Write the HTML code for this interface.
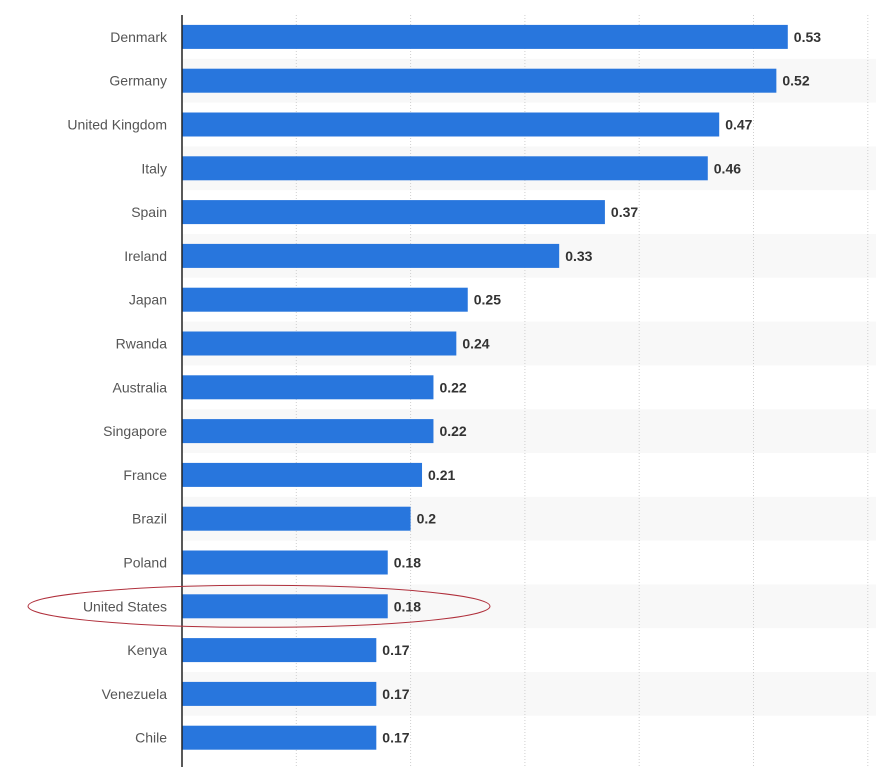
<!DOCTYPE html>
<html><head><meta charset="utf-8"><style>
body{margin:0;background:#fff;}
svg text{font-family:"Liberation Sans","DejaVu Sans",sans-serif;font-size:14px;}
</style></head><body>
<svg id="chart" width="876" height="767" xmlns="http://www.w3.org/2000/svg"></svg>
<script>
const categories=["Denmark","Germany","United Kingdom","Italy","Spain","Ireland","Japan","Rwanda","Australia","Singapore","France","Brazil","Poland","United States","Kenya","Venezuela","Chile"];
const values=[0.53,0.52,0.47,0.46,0.37,0.33,0.25,0.24,0.22,0.22,0.21,0.2,0.18,0.18,0.17,0.17,0.17];
const valueLabels=["0.53","0.52","0.47","0.46","0.37","0.33","0.25","0.24","0.22","0.22","0.21","0.2","0.18","0.18","0.17","0.17","0.17"];
const gridTicks=[0.1,0.2,0.3,0.4,0.5,0.6];
const svg=document.getElementById('chart');
const NS="http://www.w3.org/2000/svg";
const x0=182,scale=1143,top0=15,step=43.8,barH=24;
const xs=v=>x0+v*scale;
const yc=i=>top0+step*(i+0.5);
function mk(t,a){const e=document.createElementNS(NS,t);for(const k in a)e.setAttribute(k,a[k]);svg.appendChild(e);return e;}
categories.forEach((c,i)=>{if(i%2===1){const r=mk('rect',{x:x0,y:yc(i)-step/2,width:876-x0,height:step,fill:'#f8f8f8'});

}});
gridTicks.forEach(t=>{const l=mk('line',{x1:xs(t),x2:xs(t),y1:top0,y2:767,stroke:'#cfcfcf','stroke-dasharray':'1,2'});

});
categories.forEach((c,i)=>{
const y=yc(i);
const b=mk('rect',{x:x0,y:y-barH/2,width:xs(values[i])-x0,height:barH,fill:'#2876dd'});


const t=mk('text',{x:167,y:y+5,'text-anchor':'end',fill:'#555'});t.textContent=c;


const v=mk('text',{x:xs(values[i])+6,y:y+5,fill:'#333','font-weight':'bold'});v.textContent=valueLabels[i];


});
const ax=mk('line',{x1:x0,x2:x0,y1:top0,y2:767,stroke:'#222','stroke-width':1.5});


const el=mk('ellipse',{cx:259,cy:yc(13),rx:231,ry:21,fill:'none',stroke:'#b0303c','stroke-width':1});


</script>
</body></html>
